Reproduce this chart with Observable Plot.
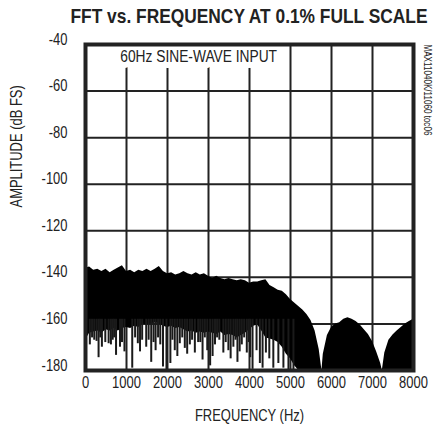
<!DOCTYPE html>
<html><head><meta charset="utf-8">
<script src="https://cdn.jsdelivr.net/npm/d3@7"></script>
<script src="https://cdn.jsdelivr.net/npm/@observablehq/plot@0.6"></script>
<style>
body{margin:0;background:#fff;}
#wrap{position:relative;width:440px;height:434px;overflow:hidden;}
#title{position:absolute;top:4px;left:248.5px;font-weight:bold;font-size:21px;font-family:"Liberation Sans",Arial,sans-serif;color:#222;white-space:nowrap;transform-origin:0 0;z-index:2;}
</style></head>
<body><div id="wrap"><span id="title">FFT vs. FREQUENCY AT 0.1% FULL SCALE</span></div>
<script>
const xTicks = [0,1000,2000,3000,4000,5000,6000,7000,8000];
const yTicks = [-180,-160,-140,-120,-100,-80,-60,-40];
const freq = [0,100,200,300,400,500,600,700,800,900,1000,1100,1200,1300,1400,1500,1600,1700,1800,1900,2000,2100,2200,2300,2400,2500,2600,2700,2800,2900,3000,3100,3200,3300,3400,3500,3600,3700,3800,3900,4000,4100,4200,4300,4400,4500,4600,4700,4800,4900,5000,5100,5200,5300,5400,5500,5600,5700,5767,5800,5900,6000,6100,6200,6300,6400,6500,6600,6700,6800,6900,7000,7100,7200,7240,7300,7400,7500,7600,7700,7800,7900,8000];
const upper = [-136,-135.5,-137,-136.5,-137.5,-136.5,-138,-137,-136,-135,-137.5,-137,-138,-137,-137.5,-136.5,-137.5,-136.5,-135.3,-137.5,-138.5,-138,-139,-138.5,-137.5,-138.5,-139,-138,-139,-138.5,-139.5,-140.5,-139.5,-140.5,-141,-140.5,-141,-141.5,-141,-141.5,-142.5,-142,-142,-141.5,-141,-143.5,-144.5,-145.5,-146,-147.5,-149.5,-151,-152.5,-154,-156,-158.5,-163,-171,-180,-173,-165,-161.5,-160,-159.5,-158,-157.3,-158,-159,-160.5,-162.5,-164.5,-167.5,-172,-177,-180,-172.5,-167,-164.8,-163,-161.5,-160,-159,-158];
const lower = [-167,-164,-163.5,-163,-164,-162.5,-163,-162,-163,-162,-161.5,-162,-161,-161.5,-160,-160.5,-160,-159.5,-160,-161,-161.5,-161,-162,-161.5,-162.5,-163.5,-163,-164,-163.5,-164,-163.5,-164,-164.5,-163.5,-165,-164.5,-165,-166,-165,-164,-162.5,-161,-160.5,-163,-166,-166.5,-167,-168,-170,-173,-175,-178,-180,-180,-180,-180,-180,-180,-180,-180,-180,-180,-180,-180,-180,-180,-180,-180,-180,-180,-180,-180,-180,-180,-180,-180,-180,-180,-180,-180,-180,-180,-180];
const spikeFreq = [106,160,213,270,319,360,400,483,564,620,663,700,745,842,890,950,1140,1210,1276,1330,1382,1481,1540,1603,1660,1710,1770,1824,1890,1975,2070,2120,2177,2240,2300,2360,2422,2480,2545,2600,2667,2748,2800,2855,2910,2970,3040,3100,3158,3210,3264,3362,3420,3485,3540,3607,3660,3706,3760,3812,3870,3934,3980,4017,4074,4172,4253,4319,4400,4483,4581,4704,4827,4950,5072];
const spikeMin = [-169,-166,-167,-167.5,-174.5,-166,-170,-168,-168.5,-169,-167,-166,-173.5,-170,-168,-172,-179,-166,-168.5,-172,-167,-170,-167,-176.5,-168,-171.5,-166,-169,-178.5,-180,-177,-167,-171.5,-174,-168.5,-166,-170.5,-173,-169,-167,-172.5,-168,-168,-175.5,-166,-171.5,-178,-174,-169,-166,-167,-172.5,-168,-171.5,-175,-170,-167,-176.5,-172,-169,-166,-172.5,-168,-174.5,-179.5,-171.5,-177,-179,-172.5,-175,-179,-177,-179,-180,-180];
const annotation = [{f: 2760, v: -47.5, text: "60Hz SINE-WAVE INPUT"}];

const series = freq.map((f, i) => ({f, hi: upper[i], lo: lower[i]}));
const spikes = spikeFreq.map((f, i) => ({f, min: spikeMin[i]}));
const font = '"Liberation Sans",Arial,sans-serif';
const ink = "#222";

const chart = Plot.plot({
  width: 440, height: 434,
  marginLeft: 85, marginRight: 27, marginTop: 44, marginBottom: 64,
  x: {domain: [0, 8000]},
  y: {domain: [-180, -40]},
  style: {fontFamily: font, fontSize: "16px", color: ink, background: "white"},
  marks: [
    Plot.gridX(xTicks, {stroke: ink, strokeOpacity: 1, strokeWidth: 2}),
    Plot.gridY(yTicks, {stroke: ink, strokeOpacity: 1, strokeWidth: 2}),
    Plot.areaY(series, {x: "f", y1: "lo", y2: "hi", fill: "#000"}),
    Plot.ruleX(spikes, {x: "f", y1: -158, y2: "min", stroke: "#1a1a1a", strokeWidth: 2}),
    Plot.text(annotation, {x: "f", y: "v", text: "text", fill: ink, stroke: "white", strokeWidth: 12, fontSize: 17}),
    Plot.frame({stroke: ink, strokeWidth: 4}),
    Plot.axisX(xTicks, {tickSize: 0, tickPadding: 17, tickFormat: d => String(d), label: null, fontSize: 16}),
    Plot.axisY(yTicks, {tickSize: 0, tickPadding: 18, tickFormat: d => String(d), label: null, fontSize: 16}),
    Plot.text(["AMPLITUDE (dB FS)"], {frameAnchor: "left", rotate: -90, dx: -64, fontSize: 16, fill: ink}),
    Plot.text(["FREQUENCY (Hz)"], {frameAnchor: "bottom", lineAnchor: "middle", dy: 50, fontSize: 16, fill: ink}),
    Plot.text(["MAX11040K/11060 toc06"], {frameAnchor: "top-right", rotate: 90, textAnchor: "start", lineAnchor: "middle", dx: 10, dy: 0, fontSize: 10, fill: ink})
  ]
});
document.getElementById("wrap").appendChild(chart);

// condensed look: squeeze glyphs horizontally about each text's anchor
d3.select(chart).selectAll("text").each(function() {
  const x = this.getAttribute("x"), y = this.getAttribute("y");
  let t = this.getAttribute("transform") || "";
  if (x !== null || y !== null) {
    t += ` translate(${+x || 0},${+y || 0})`;
    this.removeAttribute("x"); this.removeAttribute("y");
  }
  this.setAttribute("transform", t + " scale(0.81,1)");
});

// title: condensed and centred over the plot frame
const title = document.getElementById("title");
const w = title.getBoundingClientRect().width;
const s = 357 / w;
title.style.transform = `translate(${-178.5}px,0) scale(${s},1)`;
</script>
</body></html>
